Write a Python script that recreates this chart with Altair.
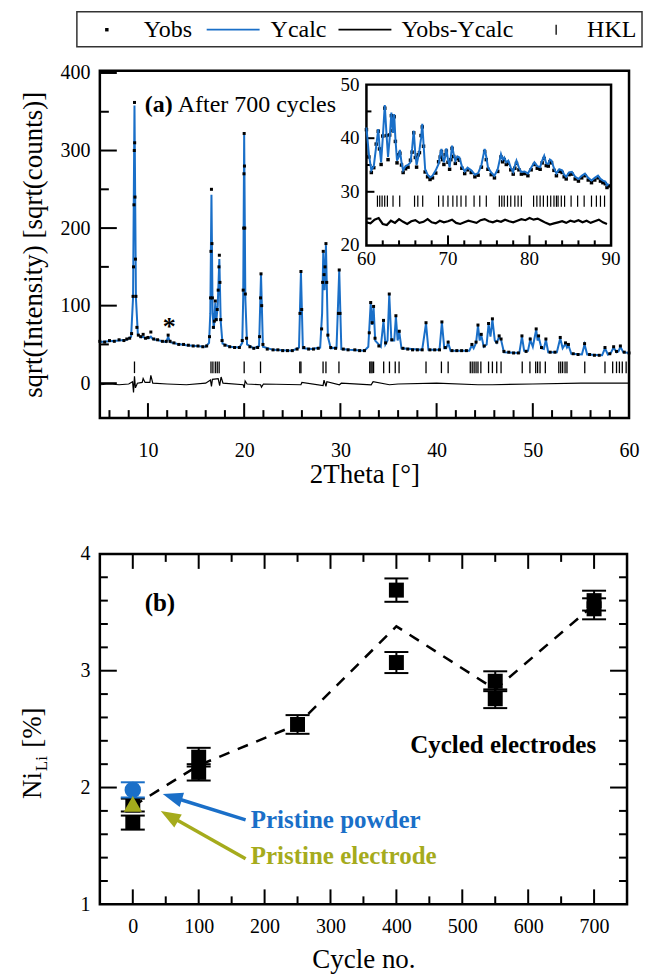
import altair as alt
import pandas as pd

FONT = "Liberation Serif"
BLUE = "#1a6fc8"
OLIVE = "#a5ab1c"

# ---------------- panel (a): XRD pattern ----------------
calc_a = [(5.0,53),(6.0,54),(7.0,55),(7.8,56),(8.25,60),(8.45,110),(8.6,358),(8.75,110),(8.95,63),(9.3,59),(9.5,60),(9.7,58),(10.1,58),(10.3,60),(10.5,57),(11.2,55),(11.9,53),(12.1,60),(12.3,53),(13.0,51),(14.0,49),(15.0,48),(16.0,47),(16.35,52),(16.48,90),(16.6,243),(16.72,90),(16.85,70),(17.0,104),(17.1,80),(17.25,100),(17.42,160),(17.56,80),(17.75,51),(18.5,47),(19.5,46),(19.8,52),(19.9,110),(20.0,320),(20.12,110),(20.3,50),(21.0,45),(21.55,48),(21.75,140),(21.95,47),(23.0,43),(25.0,42),(25.7,46),(25.9,143),(26.1,45),(27.0,44),(27.9,46),(28.1,90),(28.22,168),(28.36,120),(28.5,178),(28.7,60),(29.0,45),(29.6,46),(29.88,145),(30.1,44),(31.0,43),(32.5,42),(32.9,47),(33.15,103),(33.3,75),(33.45,98),(33.62,55),(34.2,47),(34.48,80),(34.68,50),(34.9,55),(35.08,114),(35.3,55),(35.6,55),(35.77,86),(35.95,55),(36.12,66),(36.35,45),(38.5,43),(38.9,77),(39.15,43),(40.3,43),(40.55,78),(40.8,45),(41.0,45),(41.2,52),(41.45,42),(43.4,42),(43.67,49),(43.85,45),(44.1,52),(44.3,74),(44.48,55),(44.64,62),(44.9,47),(45.2,50),(45.4,76),(45.6,60),(45.8,82),(46.05,55),(46.25,52),(46.5,60),(46.7,56),(47.0,40),(48.6,39),(48.87,60),(49.1,42),(49.5,42),(49.73,56),(50.0,47),(50.35,69),(50.5,55),(50.6,60),(50.9,45),(51.15,44),(51.36,56),(51.6,40),(52.5,40),(52.85,58),(53.1,45),(53.4,51),(53.55,46),(53.7,49),(54.0,38),(55.1,37),(55.38,50),(55.65,37),(57.2,36),(57.5,45),(57.8,37),(58.1,39),(58.4,46),(58.7,40),(58.9,41),(59.1,47),(59.4,40),(60.0,39)]

obs_a = [(5.0,54),(5.5,53),(6.0,55),(6.5,54),(7.0,56),(7.5,55),(7.8,57),(8.1,58),(8.3,64),(8.45,112),(8.5,150),(8.55,230),(8.58,300),(8.6,362),(8.62,310),(8.65,240),(8.7,160),(8.75,112),(8.85,72),(9.0,62),(9.25,60),(9.5,63),(9.75,58),(10.0,59),(10.3,66),(10.6,57),(11.0,56),(11.5,54),(11.9,54),(12.1,62),(12.3,54),(12.7,52),(13.2,50),(13.7,50),(14.2,49),(14.7,48),(15.2,48),(15.7,47),(16.1,48),(16.4,60),(16.5,110),(16.55,170),(16.6,250),(16.65,180),(16.7,110),(16.8,72),(16.9,80),(17.0,106),(17.1,82),(17.2,95),(17.3,120),(17.38,150),(17.42,165),(17.48,130),(17.56,82),(17.7,55),(18.0,49),(18.5,47),(19.0,46),(19.5,46),(19.8,55),(19.9,120),(19.95,200),(19.98,270),(20.0,322),(20.03,280),(20.06,200),(20.12,115),(20.25,58),(20.6,47),(21.0,45),(21.4,46),(21.6,60),(21.7,110),(21.75,141),(21.82,100),(21.95,50),(22.4,44),(23.0,43),(23.5,43),(24.0,42),(24.5,42),(25.0,42),(25.5,44),(25.8,90),(25.9,144),(25.98,95),(26.2,46),(26.7,44),(27.2,44),(27.7,45),(28.05,70),(28.15,130),(28.22,170),(28.3,140),(28.4,150),(28.5,180),(28.58,130),(28.7,62),(29.0,46),(29.5,45),(29.8,90),(29.88,146),(29.96,90),(30.3,44),(30.8,43),(31.5,43),(32.0,42),(32.5,42),(33.0,65),(33.15,104),(33.3,78),(33.45,99),(33.6,58),(34.0,48),(34.48,81),(34.7,52),(35.08,115),(35.35,56),(35.77,87),(36.12,67),(36.5,45),(37.0,44),(37.5,43),(38.0,43),(38.5,43),(38.9,78),(39.3,43),(39.8,43),(40.3,43),(40.55,79),(40.9,46),(41.2,53),(41.6,42),(42.1,42),(42.6,42),(43.1,42),(43.67,50),(44.1,53),(44.3,75),(44.64,63),(44.95,48),(45.4,77),(45.8,83),(46.25,53),(46.5,61),(46.7,57),(47.0,41),(47.5,40),(48.0,39),(48.5,39),(48.87,61),(49.3,41),(49.73,57),(50.35,70),(50.6,61),(50.9,46),(51.36,57),(51.8,40),(52.3,40),(52.85,59),(53.4,52),(53.7,50),(54.2,38),(54.7,37),(55.38,51),(55.9,37),(56.4,36),(56.9,36),(57.5,46),(58.0,38),(58.4,47),(58.7,41),(59.1,48),(59.5,40),(60.0,39)]

diff_a = [(5.0,-2),(6.0,-1),(7.0,-2),(8.0,-1),(8.4,2),(8.5,-12),(8.6,9),(8.7,-6),(8.9,0),(9.4,1),(9.5,6),(9.7,1),(10.2,1),(10.3,10),(10.5,0),(12.0,-1),(14.0,-2),(16.0,0),(16.5,4),(16.6,-4),(16.7,5),(17.3,6),(17.45,-3),(17.6,8),(17.8,0),(19.9,-2),(20.0,-6),(20.1,3),(20.3,-1),(21.7,-2),(21.8,-5),(22.0,-1),(25.9,-2),(26.0,1),(28.2,-3),(28.3,4),(28.5,-4),(28.6,2),(29.9,-2),(30.1,0),(33.2,-2),(33.4,2),(35.1,-2),(36.0,-1),(40.0,0),(44.3,-2),(45.8,-2),(50.0,-1),(55.0,0),(60.0,0)]

hkl_a = [8.6,16.55,16.75,17.0,17.2,17.4,20.0,21.7,25.78,25.9,28.2,28.5,29.85,33.05,33.18,33.3,33.45,34.5,35.1,35.7,36.1,38.9,40.5,41.2,43.5,43.7,43.9,44.1,44.3,44.6,45.4,45.8,46.25,46.7,48.9,49.7,50.3,50.5,50.75,51.3,52.7,52.9,53.1,53.35,53.55,55.4,57.5,58.3,58.7,59.0,59.3,59.7]
HKL_A_RANGE = [13, 28]

A_X_DOMAIN = [5, 60]
A_Y_DOMAIN = [-45, 403]
a_x_labels = [10, 20, 30, 40, 50, 60]
a_x_minor = [6, 8, 12, 14, 16, 18, 22, 24, 26, 28, 32, 34, 36, 38, 42, 44, 46, 48, 52, 54, 56, 58]
a_y_labels = [0, 100, 200, 300, 400]
a_y_minor = [50, 150, 250, 350]

# ---------------- inset (60-90 deg) ----------------
in_x = [60.0,60.3,60.6,60.9,61.2,61.45,61.6,61.8,62.0,62.25,62.45,62.65,62.85,63.06,63.25,63.4,63.55,63.75,63.95,64.1,64.3,64.5,64.8,65.1,65.4,65.6,65.8,66.0,66.15,66.35,66.5,66.7,66.85,67.0,67.2,67.5,67.8,68.1,68.5,68.85,69.05,69.2,69.35,69.5,69.65,69.8,70.0,70.2,70.35,70.5,70.7,70.9,71.15,71.4,71.7,72.05,72.4,72.85,73.3,73.7,74.1,74.5,74.7,74.9,75.3,75.7,76.1,76.5,76.7,76.9,77.15,77.4,77.7,78.0,78.2,78.4,78.7,79.0,79.4,79.8,80.2,80.6,80.95,81.3,81.55,81.8,82.05,82.3,82.5,82.7,83.0,83.3,83.65,84.0,84.25,84.5,84.85,85.2,85.6,86.0,86.4,86.8,87.2,87.6,88.0,88.4,88.7,89.0,89.3,89.5,89.7]
in_calc = [42.0,37.0,34.0,34.8,38.5,41.7,38.5,35.5,40.0,46.2,41.0,36.5,40.0,44.8,41.0,44.5,40.0,35.8,36.5,37.8,35.5,34.0,34.8,35.0,35.5,38.0,41.4,37.0,35.0,36.5,37.8,40.0,42.7,39.0,34.2,33.2,32.7,33.0,34.0,35.2,37.0,38.0,36.5,35.5,36.5,38.1,36.0,34.6,36.5,38.6,37.0,35.8,36.6,36.4,34.8,33.8,34.5,34.0,33.2,33.5,35.0,38.0,36.5,34.6,33.6,33.0,34.2,37.0,36.0,36.4,35.5,35.8,34.5,33.7,34.8,35.8,34.5,33.7,33.8,33.4,34.5,35.5,34.8,34.6,35.8,36.7,35.3,35.2,36.0,35.8,34.4,33.4,34.2,34.0,33.2,32.8,33.6,33.7,32.8,32.4,33.0,33.4,32.6,32.1,32.6,33.0,32.4,32.1,31.9,31.2,31.5]
in_obs = [41.6,36.5,33.6,34.5,38.9,41.3,38.0,35.1,40.4,45.6,40.5,36.0,40.6,44.2,41.4,44.0,39.4,35.4,36.9,37.2,35.0,33.6,34.3,34.6,35.9,37.4,41.0,36.4,34.6,36.9,37.3,40.5,42.1,38.5,33.7,32.8,32.3,32.6,33.5,35.6,36.5,37.5,36.0,35.1,36.9,37.6,35.5,34.2,36.0,38.1,36.6,35.3,36.2,35.9,34.4,33.4,34.1,33.6,32.8,33.1,34.6,37.5,36.0,34.2,33.2,32.6,33.8,36.5,35.6,36.0,35.1,35.3,34.1,33.3,34.4,35.3,34.1,33.3,33.4,33.0,34.1,35.1,34.4,34.2,35.4,36.2,34.9,34.8,35.6,35.4,34.0,33.0,33.8,33.6,32.8,32.4,33.2,33.3,32.4,32.0,32.6,33.0,32.2,31.7,32.2,32.6,32.0,31.7,31.5,30.8,31.1]
in_diff_x = [60.0,60.5,61.0,61.5,62.0,62.5,63.0,63.5,64.0,64.5,65.0,65.5,66.0,66.5,67.0,67.5,68.0,68.5,69.0,69.5,70.0,70.5,71.0,71.5,72.0,72.5,73.0,73.5,74.0,74.5,75.0,75.5,76.0,76.5,77.0,77.5,78.0,78.5,79.0,79.5,80.0,80.5,81.0,81.5,82.0,82.5,83.0,83.5,84.0,84.5,85.0,85.5,86.0,86.5,87.0,87.5,88.0,88.5,89.0,89.5]
in_diff_y = [24.3,24.1,24.8,25.1,24.0,23.8,24.6,24.2,24.9,24.4,24.0,24.5,24.7,24.2,24.4,24.9,24.3,24.1,24.6,24.3,24.5,24.8,24.2,24.0,24.3,24.6,24.4,24.2,24.7,24.9,24.5,24.3,24.6,24.4,24.8,24.5,24.3,24.6,24.9,24.7,25.1,24.8,25.0,24.6,24.2,23.9,24.1,24.3,24.5,24.2,24.6,24.4,24.7,24.3,24.6,24.2,24.5,24.8,24.3,24.0]
hkl_in = [61.35,61.63,61.92,62.24,62.57,63.26,64.08,65.9,66.3,66.9,68.85,69.4,70.0,70.6,71.1,71.6,72.2,73.2,73.9,74.7,76.3,76.6,76.9,77.3,77.7,78.2,78.6,79.0,80.5,80.9,81.3,81.7,82.2,82.6,83.0,83.3,83.5,83.9,84.3,85.1,85.9,86.7,87.6,88.2,88.7,89.2]
HKL_IN_RANGE = [27.2, 29.3]
IN_X_DOMAIN = [60, 90]
IN_Y_DOMAIN = [20, 50]
in_x_labels = [60, 70, 80, 90]
in_x_major = [70, 80]
in_x_minor = [62, 64, 66, 68, 72, 74, 76, 78, 82, 84, 86, 88]
in_y_labels = [20, 30, 40, 50]
in_y_major = [30, 40]
in_y_minor = [25, 35, 45]

# ---------------- panel (b): Ni in Li layer ----------------
cyc = [0, 0, 100, 100, 250, 400, 400, 550, 550, 700, 700]
ni = [1.70, 1.85, 2.26, 2.13, 2.54, 3.69, 3.07, 2.91, 2.76, 3.60, 3.53]
ni_err = [0.06, 0.055, 0.08, 0.07, 0.08, 0.10, 0.09, 0.085, 0.08, 0.085, 0.09]
powder_c, powder_v, powder_e = [0], [1.98], [0.065]
electrode_c, electrode_v = [0], [1.86]
mean_c = [0, 100, 250, 400, 550, 700]
mean_v = [1.84, 2.19, 2.54, 3.38, 2.84, 3.565]
arrow_powder = [(171.2, 1.723), (59.8, 1.919)]
arrow_powder_tip = (45.45, 1.945)
arrow_elec = [(171.2, 1.391), (55.6, 1.758)]
arrow_elec_tip = (42.4, 1.80)

B_X_DOMAIN = [-50, 750]
B_Y_DOMAIN = [1, 4]
b_x_labels = [0, 100, 200, 300, 400, 500, 600, 700]
b_x_minor = [50, 150, 250, 350, 450, 550, 650]
b_y_labels = [1, 2, 3, 4]
b_y_major = [2, 3]
b_y_minor = [1.2, 1.4, 1.6, 1.8, 2.2, 2.4, 2.6, 2.8, 3.2, 3.4, 3.6, 3.8]

WA, HA = 530, 348
WB, HB = 528, 351
ONE = pd.DataFrame({"k": [0]})

# ================= panel (a) =================
xa_s = alt.Scale(domain=A_X_DOMAIN, nice=False, zero=False)
ya_s = alt.Scale(domain=A_Y_DOMAIN, nice=False, zero=False)
xa_ax = alt.Axis(values=a_x_labels, title="2Theta [°]", ticks=False, tickSize=0, domain=False,
                 grid=False, labelPadding=22, titlePadding=1, format="d", labelFlush=False)
ya_ax = alt.Axis(values=a_y_labels, title="sqrt(Intensity) [sqrt(counts)]", ticks=False, tickSize=0,
                 domain=False, grid=False, labelPadding=10, titlePadding=12, format="d", labelFlush=False)

def XA(f="x"):
    return alt.X(f"{f}:Q", scale=xa_s, axis=xa_ax)

def YA(f="y"):
    return alt.Y(f"{f}:Q", scale=ya_s, axis=ya_ax)

df_calc = pd.DataFrame(calc_a, columns=["x", "y"])
df_obs = pd.DataFrame(obs_a, columns=["x", "y"])
df_diff = pd.DataFrame(diff_a, columns=["x", "y"])
df_hkl = pd.DataFrame({"x": hkl_a, "y": HKL_A_RANGE[0], "y2": HKL_A_RANGE[1]})

a_layers = [
    alt.Chart(pd.DataFrame({"x": a_x_labels})).mark_rule(color="black", strokeWidth=2).encode(
        x=XA(), y=alt.value(HA), y2=alt.value(HA - 15)),
    alt.Chart(pd.DataFrame({"x": a_x_minor})).mark_rule(color="black", strokeWidth=2).encode(
        x=XA(), y=alt.value(HA), y2=alt.value(HA - 8)),
    alt.Chart(pd.DataFrame({"y": a_y_labels})).mark_rule(color="black", strokeWidth=2).encode(
        y=YA(), x=alt.value(0), x2=alt.value(17)),
    alt.Chart(pd.DataFrame({"y": a_y_minor})).mark_rule(color="black", strokeWidth=2).encode(
        y=YA(), x=alt.value(0), x2=alt.value(9)),
    alt.Chart(df_diff).mark_line(color="black", strokeWidth=1.2).encode(x=XA(), y=YA()),
    alt.Chart(df_hkl).mark_rule(color="black", strokeWidth=1.3).encode(x=XA(), y=YA(), y2="y2:Q"),
    alt.Chart(df_calc).mark_line(color=BLUE, strokeWidth=2).encode(x=XA(), y=YA()),
    alt.Chart(df_obs).mark_square(color="black", size=9, opacity=1).encode(x=XA(), y=YA()),
    alt.Chart(pd.DataFrame({"x": [12.2], "y": [72], "t": ["*"]})).mark_text(
        fontSize=26, fontWeight="bold", font=FONT, color="black").encode(x=XA(), y=YA(), text="t:N"),
    alt.Chart(ONE).mark_text(fontSize=24, fontWeight="bold", font=FONT, align="left", baseline="middle",
                             color="black").encode(x=alt.value(45), y=alt.value(34), text=alt.value("(a)")),
    alt.Chart(ONE).mark_text(fontSize=24, font=FONT, align="left", baseline="middle", color="black").encode(
        x=alt.value(78), y=alt.value(34), text=alt.value("After 700 cycles")),
    # legend
    alt.Chart(ONE).mark_rect(fillOpacity=0, stroke="#333333", strokeWidth=1.5).encode(
        x=alt.value(-23), x2=alt.value(543), y=alt.value(-59), y2=alt.value(-24)),
    alt.Chart(ONE).mark_square(color="black", size=12, opacity=1).encode(x=alt.value(7), y=alt.value(-41)),
    alt.Chart(ONE).mark_rule(color=BLUE, strokeWidth=1.8).encode(
        x=alt.value(107), x2=alt.value(160), y=alt.value(-41)),
    alt.Chart(ONE).mark_rule(color="black", strokeWidth=1.8).encode(
        x=alt.value(239), x2=alt.value(292), y=alt.value(-41)),
    alt.Chart(ONE).mark_rule(color="black", strokeWidth=1.3).encode(
        x=alt.value(457), y=alt.value(-46), y2=alt.value(-36)),
]
for px, txt in [(44, "Yobs"), (171, "Ycalc"), (302, "Yobs-Ycalc"), (488, "HKL")]:
    a_layers.append(alt.Chart(ONE).mark_text(fontSize=24, font=FONT, align="left", baseline="middle",
                                             color="black").encode(
        x=alt.value(px), y=alt.value(-41), text=alt.value(txt)))

main_a = alt.layer(*a_layers)

# inset
xi_s = alt.Scale(domain=IN_X_DOMAIN, range=[267, 512], nice=False, zero=False)
yi_s = alt.Scale(domain=IN_Y_DOMAIN, range=[175, 14], nice=False, zero=False)

def XI(f="x"):
    return alt.X(f"{f}:Q", scale=xi_s, axis=None)

def YI(f="y"):
    return alt.Y(f"{f}:Q", scale=yi_s, axis=None)

df_frame = pd.DataFrame({"x": [IN_X_DOMAIN[0]], "x2": [IN_X_DOMAIN[1]],
                         "y": [IN_Y_DOMAIN[0]], "y2": [IN_Y_DOMAIN[1]]})
df_in = pd.DataFrame({"x": in_x, "calc": in_calc, "obs": in_obs})
df_in_diff = pd.DataFrame({"x": in_diff_x, "y": in_diff_y})
df_in_hkl = pd.DataFrame({"x": hkl_in, "y": HKL_IN_RANGE[0], "y2": HKL_IN_RANGE[1]})

i_layers = [
    alt.Chart(df_frame).mark_rect(fill="white", stroke="black", strokeWidth=2.5).encode(
        x=XI(), x2="x2:Q", y=YI(), y2="y2:Q"),
    alt.Chart(pd.DataFrame({"x": in_x_major})).mark_rule(color="black", strokeWidth=2).encode(
        x=XI(), y=alt.value(175), y2=alt.value(165)),
    alt.Chart(pd.DataFrame({"x": in_x_minor})).mark_rule(color="black", strokeWidth=2).encode(
        x=XI(), y=alt.value(175), y2=alt.value(170)),
    alt.Chart(pd.DataFrame({"y": in_y_major})).mark_rule(color="black", strokeWidth=2).encode(
        y=YI(), x=alt.value(267), x2=alt.value(275)),
    alt.Chart(pd.DataFrame({"y": in_y_minor})).mark_rule(color="black", strokeWidth=2).encode(
        y=YI(), x=alt.value(267), x2=alt.value(272)),
    alt.Chart(pd.DataFrame({"x": in_x_labels})).mark_text(fontSize=19, font=FONT, baseline="middle",
                                                           color="black").encode(
        x=XI(), y=alt.value(189), text="x:N"),
    alt.Chart(pd.DataFrame({"y": in_y_labels})).mark_text(fontSize=19, font=FONT, baseline="middle",
                                                           align="right", color="black").encode(
        y=YI(), x=alt.value(260), text="y:N"),
    alt.Chart(df_in_diff).mark_line(color="black", strokeWidth=2.2).encode(x=XI(), y=YI()),
    alt.Chart(df_in_hkl).mark_rule(color="black", strokeWidth=1.2).encode(x=XI(), y=YI(), y2="y2:Q"),
    alt.Chart(df_in).mark_square(color="black", size=12, opacity=1).encode(x=XI(), y=YI("obs")),
    alt.Chart(df_in).mark_line(color=BLUE, strokeWidth=2).encode(x=XI(), y=YI("calc")),
]
inset = alt.layer(*i_layers)

top = alt.layer(main_a, inset).resolve_scale(x="independent", y="independent").properties(width=WA, height=HA)

# ================= panel (b) =================
xb_s = alt.Scale(domain=B_X_DOMAIN, nice=False, zero=False)
yb_s = alt.Scale(domain=B_Y_DOMAIN, nice=False, zero=False)
xb_ax = alt.Axis(values=b_x_labels, title="Cycle no.", ticks=False, tickSize=0, domain=False, grid=False,
                 labelPadding=12, titlePadding=10, format="d", labelFlush=False)
yb_ax = alt.Axis(values=b_y_labels, title=None, ticks=False, tickSize=0, domain=False, grid=False,
                 labelPadding=10, format="d", labelFlush=False)

def XB(f="x"):
    return alt.X(f"{f}:Q", scale=xb_s, axis=xb_ax)

def YB(f="y"):
    return alt.Y(f"{f}:Q", scale=yb_s, axis=yb_ax)

df_pts = pd.DataFrame({"x": cyc, "y": ni, "e": ni_err})
df_pts["lo"] = df_pts["y"] - df_pts["e"]
df_pts["hi"] = df_pts["y"] + df_pts["e"]
df_pow = pd.DataFrame({"x": powder_c, "y": powder_v, "e": powder_e})
df_pow["lo"] = df_pow["y"] - df_pow["e"]
df_pow["hi"] = df_pow["y"] + df_pow["e"]
df_el = pd.DataFrame({"x": electrode_c, "y": electrode_v})
df_mean = pd.DataFrame({"x": mean_c, "y": mean_v})
df_arp = pd.DataFrame(arrow_powder, columns=["x", "y"])
df_are = pd.DataFrame(arrow_elec, columns=["x", "y"])
ARROW = "M0,0L-0.75,2L0.75,2Z"

b_layers = [
    alt.Chart(pd.DataFrame({"x": b_x_labels})).mark_rule(color="black", strokeWidth=2).encode(
        x=XB(), y=alt.value(HB), y2=alt.value(HB - 15)),
    alt.Chart(pd.DataFrame({"x": b_x_minor})).mark_rule(color="black", strokeWidth=2).encode(
        x=XB(), y=alt.value(HB), y2=alt.value(HB - 8)),
    alt.Chart(pd.DataFrame({"x": b_x_labels})).mark_rule(color="black", strokeWidth=2).encode(
        x=XB(), y=alt.value(0), y2=alt.value(15)),
    alt.Chart(pd.DataFrame({"x": b_x_minor})).mark_rule(color="black", strokeWidth=2).encode(
        x=XB(), y=alt.value(0), y2=alt.value(8)),
    alt.Chart(pd.DataFrame({"y": b_y_major})).mark_rule(color="black", strokeWidth=2).encode(
        y=YB(), x=alt.value(0), x2=alt.value(17)),
    alt.Chart(pd.DataFrame({"y": b_y_minor})).mark_rule(color="black", strokeWidth=2).encode(
        y=YB(), x=alt.value(0), x2=alt.value(8)),
    alt.Chart(pd.DataFrame({"y": b_y_major})).mark_rule(color="black", strokeWidth=2).encode(
        y=YB(), x=alt.value(WB), x2=alt.value(WB - 17)),
    alt.Chart(pd.DataFrame({"y": b_y_minor})).mark_rule(color="black", strokeWidth=2).encode(
        y=YB(), x=alt.value(WB), x2=alt.value(WB - 8)),
    alt.Chart(df_mean).mark_line(color="black", strokeWidth=2.5, strokeDash=[11, 9]).encode(x=XB(), y=YB()),
    alt.Chart(df_pts).mark_rule(color="black", strokeWidth=2).encode(x=XB(), y=YB("lo"), y2="hi:Q"),
    alt.Chart(df_pts).mark_tick(orient="horizontal", size=24, thickness=2, color="black", opacity=1).encode(
        x=XB(), y=YB("lo")),
    alt.Chart(df_pts).mark_tick(orient="horizontal", size=24, thickness=2, color="black", opacity=1).encode(
        x=XB(), y=YB("hi")),
    alt.Chart(df_pts).mark_square(color="black", size=225, opacity=1).encode(x=XB(), y=YB()),
    alt.Chart(df_pow).mark_rule(color=BLUE, strokeWidth=2).encode(x=XB(), y=YB("lo"), y2="hi:Q"),
    alt.Chart(df_pow).mark_tick(orient="horizontal", size=24, thickness=2, color=BLUE, opacity=1).encode(
        x=XB(), y=YB("lo")),
    alt.Chart(df_pow).mark_tick(orient="horizontal", size=24, thickness=2, color=BLUE, opacity=1).encode(
        x=XB(), y=YB("hi")),
    alt.Chart(df_pow).mark_circle(color=BLUE, size=270, opacity=1).encode(x=XB(), y=YB()),
    alt.Chart(df_el).mark_point(shape="triangle-up", filled=True, size=330, color=OLIVE, opacity=1).encode(
        x=XB(), y=YB()),
    alt.Chart(df_arp).mark_line(color=BLUE, strokeWidth=3.5).encode(x=XB(), y=YB()),
    alt.Chart(df_are).mark_line(color=OLIVE, strokeWidth=3.5).encode(x=XB(), y=YB()),
    alt.Chart(pd.DataFrame({"x": [arrow_powder_tip[0]], "y": [arrow_powder_tip[1]]})).mark_point(
        shape=ARROW, filled=True, size=400, angle=287, color=BLUE, opacity=1).encode(x=XB(), y=YB()),
    alt.Chart(pd.DataFrame({"x": [arrow_elec_tip[0]], "y": [arrow_elec_tip[1]]})).mark_point(
        shape=ARROW, filled=True, size=400, angle=300, color=OLIVE, opacity=1).encode(x=XB(), y=YB()),
]
b_texts = [
    (179, 1.72, "Pristine powder", BLUE),
    (179, 1.41, "Pristine electrode", OLIVE),
    (421, 2.36, "Cycled electrodes", "black"),
    (18, 3.58, "(b)", "black"),
]
for tx, ty, tt, tc in b_texts:
    b_layers.append(alt.Chart(pd.DataFrame({"x": [tx], "y": [ty], "t": [tt]})).mark_text(
        fontSize=25, fontWeight="bold", font=FONT, align="left", baseline="middle", color=tc).encode(
        x=XB(), y=YB(), text="t:N"))
# y-axis title with subscript
b_layers += [
    alt.Chart(ONE).mark_text(fontSize=27, font=FONT, angle=270, align="center", baseline="middle",
                             color="black").encode(x=alt.value(-67), y=alt.value(232), text=alt.value("Ni")),
    alt.Chart(ONE).mark_text(fontSize=17, font=FONT, angle=270, align="center", baseline="middle",
                             color="black").encode(x=alt.value(-58), y=alt.value(210), text=alt.value("Li")),
    alt.Chart(ONE).mark_text(fontSize=27, font=FONT, angle=270, align="center", baseline="middle",
                             color="black").encode(x=alt.value(-67), y=alt.value(174), text=alt.value("[%]")),
]
bottom = alt.layer(*b_layers).properties(width=WB, height=HB)

chart = alt.vconcat(top, bottom, spacing=53).configure(
    font=FONT, padding={"left": 17, "top": 9, "right": 5, "bottom": 5}
).configure_view(stroke="black", strokeWidth=2.5).configure_axis(
    labelFont=FONT, titleFont=FONT, labelColor="black", titleColor="black",
    titleFontWeight="normal", labelFontSize=20, titleFontSize=27
)

chart.save("out.html", embed_options={"renderer": "svg", "actions": False})
